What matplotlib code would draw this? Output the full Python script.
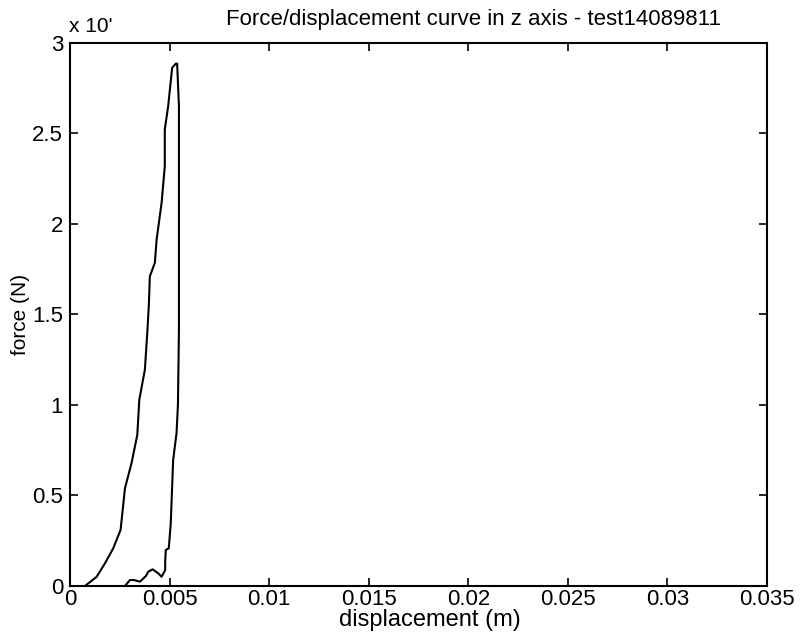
import numpy as np
import matplotlib.pyplot as plt

plt.rcParams['font.family'] = ['Liberation Sans', 'DejaVu Sans']

# force/displacement samples (displacement in m, force in N)
disp = [0.00075, 0.00134, 0.00176, 0.00217, 0.00254, 0.00276, 0.00309, 0.00338,
        0.00348, 0.00376, 0.00388, 0.00396, 0.00401, 0.00426, 0.00435, 0.00460,
        0.00476, 0.00476, 0.00493, 0.00513, 0.00532, 0.00538, 0.00547, 0.00547,
        0.00542, 0.00535, 0.00518, 0.00506, 0.00496, 0.00481, 0.00478, 0.00478,
        0.00460, 0.00443, 0.00415, 0.00393, 0.00381, 0.00351, 0.00321, 0.00301,
        0.00276]
force = [0, 510, 1260, 2080, 3100, 5400, 6790, 8350,
         10290, 11950, 13980, 15540, 17110, 17850, 19140, 21170,
         23190, 25220, 26510, 28630, 28860, 28860, 26510, 14160,
         10000, 8450, 6970, 3470, 2080, 1990, 1340, 880,
         510, 700, 920, 790, 550, 240, 330, 330,
         0]

xticks = [0, 0.005, 0.01, 0.015, 0.02, 0.025, 0.03, 0.035]
xtick_labels = ['0', '0.005', '0.01', '0.015', '0.02', '0.025', '0.03', '0.035']
yticks = [0, 5000, 10000, 15000, 20000, 25000, 30000]
ytick_labels = ['0', '0.5', '1', '1.5', '2', '2.5', '3']

fig = plt.figure(figsize=(8, 6.41), dpi=100)
ax = fig.add_axes([0.0875, 0.0858, 0.87125, 0.8472])

ax.plot(disp, force, color='black', linewidth=1.5)

ax.set_xlim(0, 0.035)
ax.set_ylim(0, 30000)
ax.set_xticks(xticks)
ax.set_xticklabels(xtick_labels)
ax.set_yticks(yticks)
ax.set_yticklabels(ytick_labels)
ax.tick_params(direction='in', top=True, right=True, length=6, width=1.2,
               labelsize=16)
ax.tick_params(axis='x', pad=2)
ax.tick_params(axis='y', pad=5)
for s in ax.spines.values():
    s.set_linewidth(1.5)

fig.text(430 / 800, 1 - 626 / 641, 'displacement (m)', fontsize=17,
         ha='center', va='baseline')
fig.text(20 / 800, 1 - 314 / 641, 'force (N)', fontsize=15, rotation=90,
         ha='center', va='center')
fig.text(474 / 800, 1 - 25 / 641, 'Force/displacement curve in z axis - test14089811',
         fontsize=16, ha='center', va='baseline')

# MATLAB style exponent label, exponent mostly hidden in the original
fig.text(69 / 800, 1 - 32 / 641, "x 10'", fontsize=15, ha='left', va='baseline')

fig.savefig('out.png', dpi=100)
